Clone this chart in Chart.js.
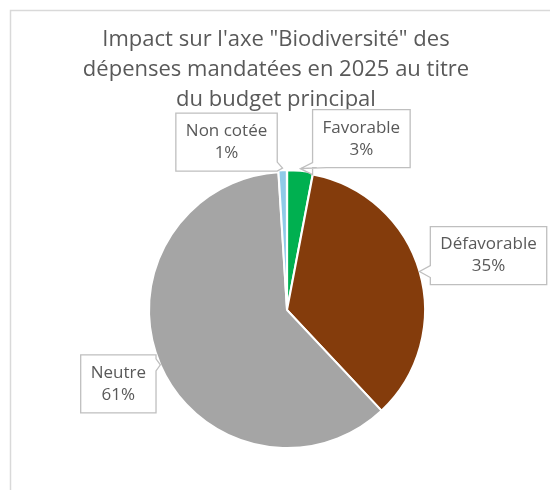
<!DOCTYPE html>
<html>
<head>
<meta charset="utf-8">
<script src="https://cdn.jsdelivr.net/npm/chart.js@4.4.1/dist/chart.umd.min.js"></script>
<style>
  html, body { margin: 0; padding: 0; background: #fff; }
  #wrap { position: relative; width: 550px; height: 490px; }
</style>
</head>
<body>
<div id="wrap"><canvas id="pieChart" width="550" height="490"></canvas></div>
<script>
const categories = ['Favorable', 'Défavorable', 'Neutre', 'Non cotée'];
const shares = [3, 35, 61, 1];
const sliceColors = ['#00b050', '#843c0c', '#a5a5a5', '#8fcae8'];
const titleLines = ['Impact sur l\'axe "Biodiversité" des', 'dépenses mandatées en 2025 au titre', 'du budget principal'];

// where each callout box sits, relative to the slice edge
const calloutShift = [[61, -30], [69, -16], [-42, 19], [-56, -26]];

const textGrey = '#595959';
const labelFont = '17px "Open Sans", sans-serif';

const frame = {
    id: 'frame',
    afterLayout(chart) {
        // pie sits a bit right of the title centre
        chart.chartArea.left += 22;
        chart.chartArea.width -= 22;
    },
    beforeDraw(chart) {
        const ctx = chart.ctx;
        ctx.save();
        ctx.strokeStyle = '#d9d9d9';
        ctx.lineWidth = 1.5;
        ctx.beginPath();
        ctx.moveTo(10.5, chart.height);
        ctx.lineTo(10.5, 10.5);
        ctx.lineTo(chart.width, 10.5);
        ctx.stroke();
        ctx.restore();
    }
};

const callouts = {
    id: 'callouts',
    afterDatasetsDraw(chart) {
        const ctx = chart.ctx;
        const arcs = chart.getDatasetMeta(0).data;
        ctx.save();
        ctx.font = labelFont;
        arcs.forEach((arc, i) => {
            const p = arc.getProps(['x', 'y', 'startAngle', 'endAngle', 'outerRadius'], true);
            const mid = (p.startAngle + p.endAngle) / 2;
            const off = arc.options.offset || 0;
            const ax = p.x + Math.cos(mid) * (p.outerRadius + off);
            const ay = p.y + Math.sin(mid) * (p.outerRadius + off);

            const lines = [categories[i], shares[i] + '%'];
            const tw = Math.max(...lines.map(t => ctx.measureText(t).width));
            const w = tw + 20;
            const h = 58;
            const cx = ax + calloutShift[i][0];
            const cy = ay + calloutShift[i][1];
            const l = cx - w / 2, r = cx + w / 2, t = cy - h / 2, b = cy + h / 2;

            // box outline with a small pointer toward the slice
            ctx.beginPath();
            ctx.moveTo(l, t);
            ctx.lineTo(r, t);
            if (ax > r) {
                ctx.lineTo(r, ay - 6); ctx.lineTo(ax, ay); ctx.lineTo(r, Math.min(ay + 6, b));
            }
            ctx.lineTo(r, b);
            if (ay > b) {
                const px = Math.min(Math.max(ax, l + 4), r - 4);
                const s = ax > cx ? -1 : 1;
                ctx.lineTo(px + (s < 0 ? 0 : 10), b);
                ctx.lineTo(ax, ay);
                ctx.lineTo(px - (s < 0 ? 10 : 0), b);
            }
            ctx.lineTo(l, b);
            if (ax < l) {
                ctx.lineTo(l, ay + 6); ctx.lineTo(ax, ay); ctx.lineTo(l, Math.max(ay - 6, t));
            }
            ctx.closePath();
            ctx.fillStyle = '#ffffff';
            ctx.fill();
            ctx.strokeStyle = '#bfbfbf';
            ctx.lineWidth = 1.3;
            ctx.stroke();

            ctx.fillStyle = textGrey;
            ctx.textAlign = 'center';
            ctx.textBaseline = 'middle';
            ctx.fillText(lines[0], cx, cy - 11);
            ctx.fillText(lines[1], cx, cy + 11);
        });
        ctx.restore();
    }
};

const pieCtx = document.getElementById('pieChart').getContext('2d');
const pieChart = new Chart(pieCtx, {
    type: 'pie',
    data: {
        labels: categories,
        datasets: [{
            data: shares,
            backgroundColor: sliceColors,
            borderColor: '#ffffff',
            borderWidth: 2,
            offset: [4, 0, 0, 4],
            radius: 138
        }]
    },
    options: {
        responsive: false,
        animation: false,
        layout: {
            padding: { left: 2, right: 0, top: 0, bottom: 0 }
        },
        plugins: {
            legend: { display: false },
            tooltip: { enabled: false },
            title: {
                display: true,
                text: titleLines,
                color: textGrey,
                font: { family: '"Open Sans", sans-serif', size: 22, weight: 'normal', lineHeight: 1.35 },
                padding: { top: 25, bottom: 16 }
            }
        }
    },
    plugins: [frame, callouts]
});
</script>
</body>
</html>
